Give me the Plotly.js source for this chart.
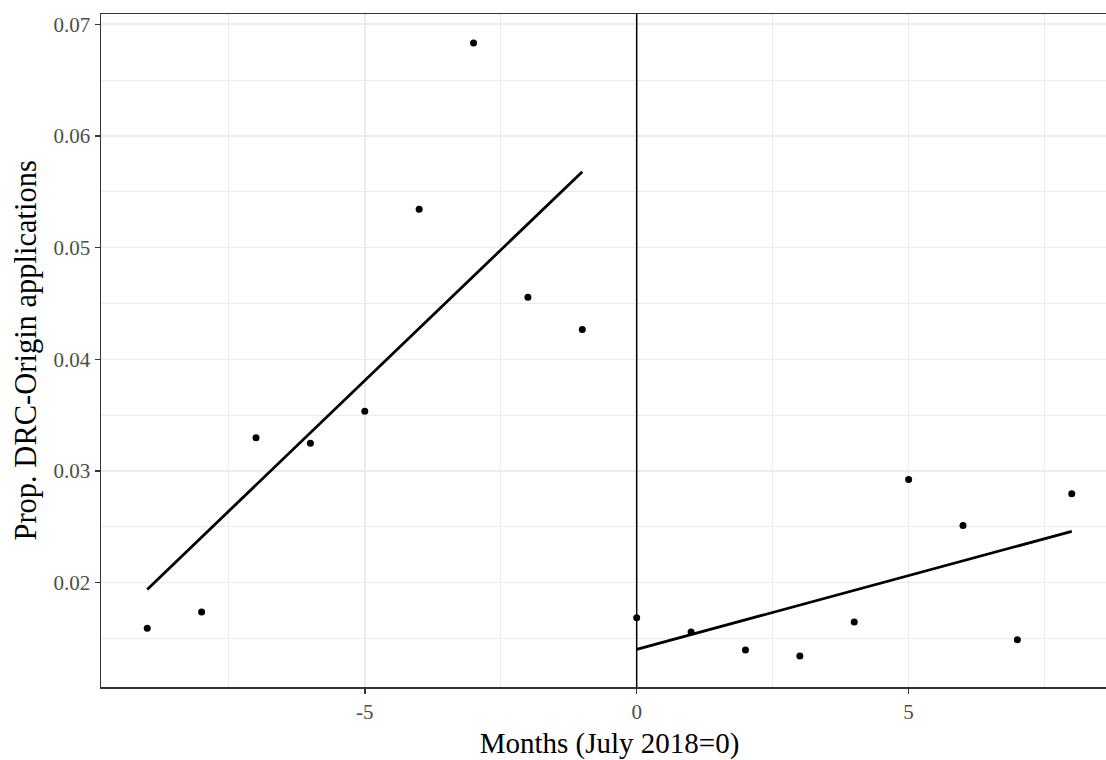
<!DOCTYPE html>
<html>
<head>
<meta charset="utf-8">
<script src="https://cdn.plot.ly/plotly-3.0.1.min.js"></script>
<style>
html, body { margin: 0; padding: 0; overflow: hidden; background: #fff; }
#chart { width: 1125px; height: 760px; }
</style>
</head>
<body>
<div id="chart"></div>
<script>
// Data
const monthsPre = [-9, -8, -7, -6, -5, -4, -3, -2, -1];
const propPre = [0.01593, 0.01737, 0.03298, 0.03248, 0.03534, 0.05343, 0.06833, 0.04555, 0.04266];
const monthsPost = [0, 1, 2, 3, 4, 5, 6, 7, 8];
const propPost = [0.01687, 0.01558, 0.01397, 0.01343, 0.01648, 0.02923, 0.02511, 0.01490, 0.02797];
// Fitted linear trends (endpoints)
const fitPreX = [-9, -1];
const fitPreY = [0.0194, 0.0568];
const fitPostX = [0, 8];
const fitPostY = [0.01403, 0.0246];
const cutoffMonth = 0;
const xTickVals = [-5, 0, 5];
const xTickText = ["-5", "0", "5"];
const yTickVals = [0.02, 0.03, 0.04, 0.05, 0.06, 0.07];
const yTickText = ["0.02", "0.03", "0.04", "0.05", "0.06", "0.07"];
const xTitle = 'Months (July 2018=0)';
const yTitle = 'Prop. DRC-Origin applications';

const serif = "Liberation Serif, Times New Roman, serif";

const traces = [
  { x: fitPreX, y: fitPreY, mode: 'lines', line: { color: '#000', width: 2.8 }, hoverinfo: 'skip' },
  { x: fitPostX, y: fitPostY, mode: 'lines', line: { color: '#000', width: 2.8 }, hoverinfo: 'skip' },
  { x: monthsPre, y: propPre, mode: 'markers', marker: { color: '#000', size: 7 } },
  { x: monthsPost, y: propPost, mode: 'markers', marker: { color: '#000', size: 7 } }
];

const layout = {
  width: 1125, height: 760,
  showlegend: false,
  paper_bgcolor: '#fff', plot_bgcolor: '#fff',
  margin: { l: 101, r: 7, t: 14, b: 73, pad: 0 },
  font: { family: serif, color: '#4d4d4d' },
  xaxis: {
    range: [-9.85, 8.85],
    tickmode: 'array', tickvals: xTickVals, ticktext: xTickText,
    ticks: 'outside', ticklen: 5, tickwidth: 1.5, tickcolor: '#333',
    tickfont: { family: serif, size: 21, color: '#4d4d4d' },
    showgrid: true, gridcolor: '#ebebeb', gridwidth: 1.6,
    minor: { tickmode: 'linear', tick0: 0, dtick: 2.5, showgrid: true, gridcolor: '#ebebeb', gridwidth: 1, ticks: '' },
    zeroline: false,
    showline: true, linecolor: '#333', linewidth: 1.5, mirror: true,
    title: { text: xTitle, font: { family: serif, size: 29, color: '#000' }, standoff: 11 }
  },
  yaxis: {
    range: [0.01066, 0.07092],
    tickmode: 'array', tickvals: yTickVals, ticktext: yTickText,
    ticks: 'outside', ticklen: 5, tickwidth: 1.5, tickcolor: '#333',
    tickfont: { family: serif, size: 21, color: '#4d4d4d' },
    showgrid: true, gridcolor: '#ebebeb', gridwidth: 1.6,
    minor: { tickmode: 'linear', tick0: 0, dtick: 0.005, showgrid: true, gridcolor: '#ebebeb', gridwidth: 1, ticks: '' },
    zeroline: false,
    showline: true, linecolor: '#333', linewidth: 1.5, mirror: true
  },
  annotations: [
    { text: yTitle, xref: 'paper', yref: 'paper', x: 0, y: 0.5, xanchor: 'center', yanchor: 'middle',
      xshift: -76, textangle: -90, showarrow: false,
      font: { family: serif, size: 30.5, color: '#000' } }
  ],
  shapes: [
    { type: 'line', xref: 'x', yref: 'paper', x0: cutoffMonth, x1: cutoffMonth, y0: 0, y1: 1,
      line: { color: '#000', width: 1.5 }, layer: 'above' }
  ]
};

Plotly.newPlot('chart', traces, layout, { displayModeBar: false, staticPlot: true });
</script>
</body>
</html>
